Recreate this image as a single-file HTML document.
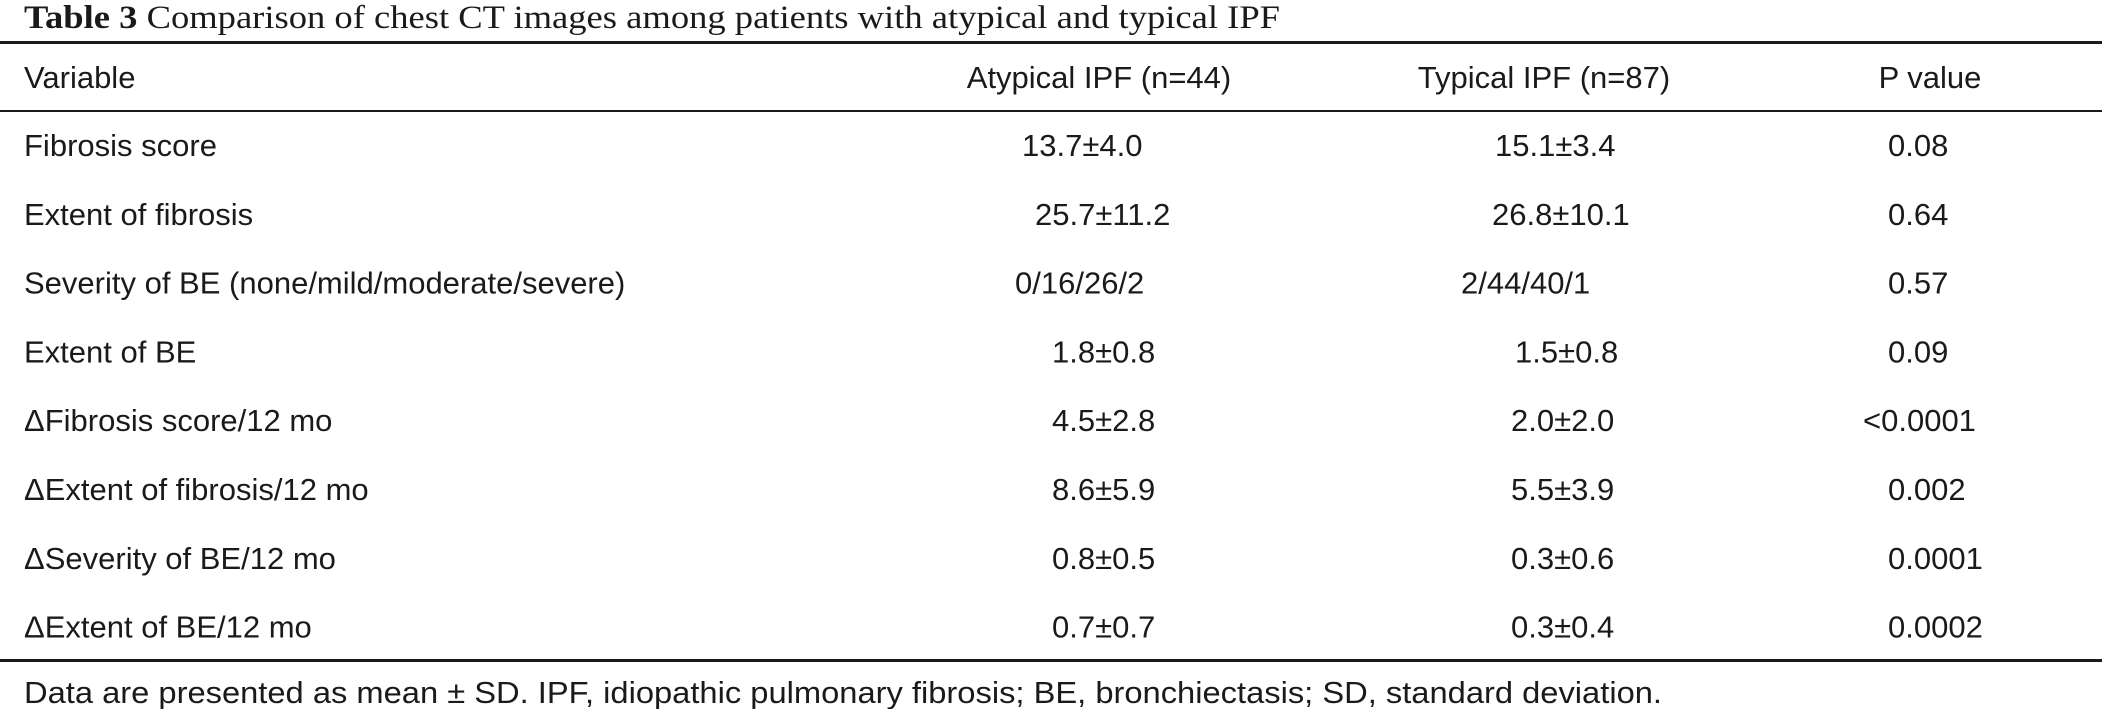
<!DOCTYPE html>
<html><head><meta charset="utf-8"><style>
html,body{margin:0;padding:0;background:#fff;}
svg{display:block;}
.s{font-family:"Liberation Sans",Arial,sans-serif;font-size:31px;fill:#1a1a1a;}
.t{font-family:"Liberation Serif","Times New Roman",serif;font-size:33px;fill:#1a1a1a;}
</style></head><body>
<svg width="2102" height="709" viewBox="0 0 2102 709">
<text class="t" x="24" y="28" textLength="1256" lengthAdjust="spacingAndGlyphs"><tspan font-weight="bold">Table 3</tspan> Comparison of chest CT images among patients with atypical and typical IPF</text>
<rect x="0" y="41" width="2102" height="3" fill="#1a1a1a"/>
<g>
<text class="s" x="24" y="88">Variable</text>
<text class="s" x="1099" y="88" text-anchor="middle">Atypical IPF (n=44)</text>
<text class="s" x="1544" y="88" text-anchor="middle">Typical IPF (n=87)</text>
<text class="s" x="1930" y="88" text-anchor="middle">P value</text>
</g>
<rect x="0" y="110" width="2102" height="2" fill="#1a1a1a"/>
<g id="body"></g>
<rect x="0" y="659" width="2102" height="3" fill="#1a1a1a"/>
<text class="s" x="24" y="703" textLength="1638" lengthAdjust="spacingAndGlyphs">Data are presented as mean ± SD. IPF, idiopathic pulmonary fibrosis; BE, bronchiectasis; SD, standard deviation.</text>
</svg>
<script>
const variables=["Fibrosis score","Extent of fibrosis","Severity of BE (none/mild/moderate/severe)","Extent of BE","\u0394Fibrosis score/12 mo","\u0394Extent of fibrosis/12 mo","\u0394Severity of BE/12 mo","\u0394Extent of BE/12 mo"];
const atypical=["13.7\u00b14.0","25.7\u00b111.2","0/16/26/2","1.8\u00b10.8","4.5\u00b12.8","8.6\u00b15.9","0.8\u00b10.5","0.7\u00b10.7"];
const typical=["15.1\u00b13.4","26.8\u00b110.1","2/44/40/1","1.5\u00b10.8","2.0\u00b12.0","5.5\u00b13.9","0.3\u00b10.6","0.3\u00b10.4"];
const pvalues=["0.08","0.64","0.57","0.09","<0.0001","0.002","0.0001","0.0002"];
const x1=[1022,1035,1015,1052,1052,1052,1052,1052];
const x2=[1495,1492,1461,1515,1511,1511,1511,1511];
const x3=[1888,1888,1888,1888,1863,1888,1888,1888];
const NS="http://www.w3.org/2000/svg";
const body=document.getElementById('body');
function txt(g,x,y,s,name){
  const t=document.createElementNS(NS,'text');
  t.setAttribute('class','s');t.setAttribute('x',x);t.setAttribute('y',y);
  
  
  t.textContent=s;g.appendChild(t);
}
variables.forEach((v,i)=>{
  const y=156+i*68.8;
  const g=document.createElementNS(NS,'g');
  
  
  txt(g,24,y,v,'variable-cell');
  txt(g,x1[i],y,atypical[i],'atypical-cell');
  txt(g,x2[i],y,typical[i],'typical-cell');
  txt(g,x3[i],y,pvalues[i],'p-value-cell');
  body.appendChild(g);
});
</script>
</body></html>
